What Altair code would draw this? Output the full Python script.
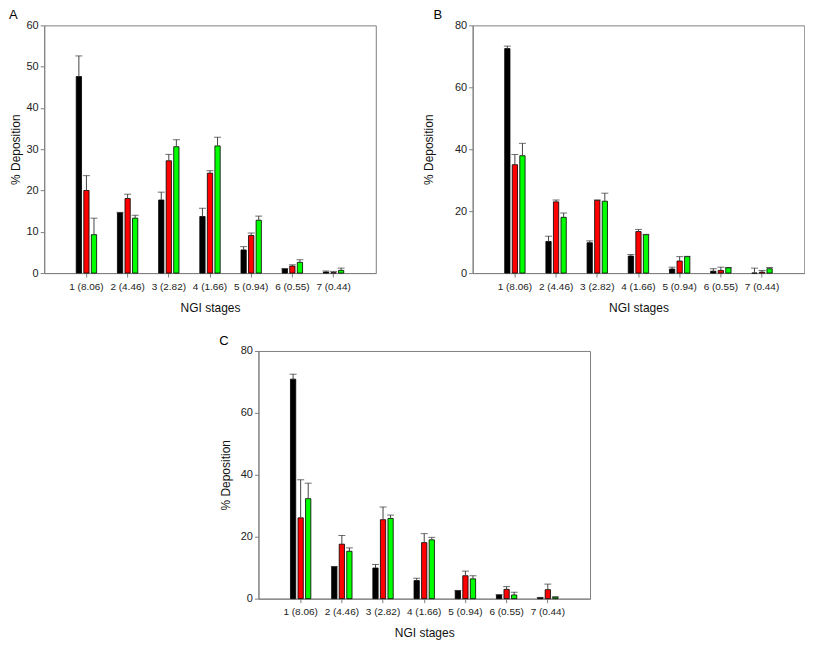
import altair as alt
import pandas as pd

stages = ["1 (8.06)", "2 (4.46)", "3 (2.82)", "4 (1.66)", "5 (0.94)", "6 (0.55)", "7 (0.44)"]
series = ["Series 1", "Series 2", "Series 3"]
colors = ["#000000", "#ff0000", "#00ff00"]

# Panel A
a_black = [47.6, 14.6, 17.7, 13.7, 5.6, 1.0, 0.25]
a_black_err = [5.0, 0.1, 1.9, 2.0, 0.8, 0.1, 0.25]
a_red = [20.0, 18.05, 27.2, 24.2, 9.1, 1.7, 0.1]
a_red_err = [3.6, 1.05, 1.55, 0.6, 0.6, 0.3, 0.3]
a_green = [9.3, 13.3, 30.6, 30.8, 12.8, 2.6, 0.65]
a_green_err = [4.0, 0.7, 1.7, 2.1, 1.0, 0.6, 0.55]

# Panel B
b_black = [72.5, 10.2, 9.8, 5.5, 1.3, 0.6, 0.0]
b_black_err = [0.8, 1.7, 0.6, 0.5, 0.6, 0.8, 1.6]
b_red = [35.0, 23.0, 23.5, 13.4, 3.9, 0.85, 0.3]
b_red_err = [3.3, 0.6, 0.1, 0.7, 1.4, 1.05, 0.55]
b_green = [37.9, 18.0, 23.2, 12.4, 5.3, 1.7, 1.4]
b_green_err = [4.0, 1.4, 2.6, 0.1, 0.1, 0.1, 0.4]

# Panel C
c_black = [70.9, 10.3, 9.9, 5.85, 2.55, 1.2, 0.3]
c_black_err = [1.6, 0.1, 1.15, 0.75, 0.1, 0.1, 0.1]
c_red = [26.1, 17.6, 25.5, 18.1, 7.4, 3.0, 2.9]
c_red_err = [12.3, 2.8, 4.1, 2.9, 1.5, 0.9, 1.8]
c_green = [32.3, 15.3, 25.9, 19.0, 6.4, 1.2, 0.5]
c_green_err = [5.0, 1.1, 1.1, 0.8, 1.0, 0.9, 0.1]

W = 332
H = 248
FONT = "Liberation Sans"


def panel(label, means, errs, ymax, ystep, title_pad, label_dx):
    rows = []
    for s, m_list, e_list in zip(series, means, errs):
        for st, m, e in zip(stages, m_list, e_list):
            rows.append({"stage": st, "series": s, "mean": m, "upper": m + e})
    df = pd.DataFrame(rows)
    x = alt.X(
        "stage:N",
        sort=stages,
        scale=alt.Scale(paddingInner=0.45, paddingOuter=0.75),
        axis=alt.Axis(title="NGI stages", labelAngle=0, labelFontSize=10,
                      labelPadding=4, titlePadding=11),
    )
    xo = alt.XOffset("series:N", sort=series,
                     scale=alt.Scale(paddingInner=0.3, paddingOuter=0.15))
    y = alt.Y(
        "mean:Q",
        scale=alt.Scale(domain=[0, ymax], nice=False),
        axis=alt.Axis(title="% Deposition", values=list(range(0, ymax + 1, ystep)),
                      labelFontSize=11, labelPadding=2, titlePadding=title_pad),
    )
    base = alt.Chart(df)
    bars = base.mark_bar(stroke="black", strokeWidth=0.8).encode(
        x=x, xOffset=xo, y=y,
        color=alt.Color("series:N", scale=alt.Scale(domain=series, range=colors), legend=None),
    )
    rules = base.mark_rule(color="#444444", strokeWidth=1).encode(
        x=x, xOffset=xo, y="mean:Q", y2="upper:Q"
    )
    caps = base.mark_tick(color="#333333", size=7, thickness=1).encode(
        x=x, xOffset=xo, y="upper:Q"
    )
    return alt.layer(bars, rules, caps).properties(
        width=W, height=H,
        title=alt.TitleParams(label, anchor="start", fontSize=13, fontWeight="normal",
                              font=FONT, dx=label_dx, offset=-3),
    )


pa = panel("A", [a_black, a_red, a_green], [a_black_err, a_red_err, a_green_err], 60, 10, 4, 0)
pb = panel("B", [b_black, b_red, b_green], [b_black_err, b_red_err, b_green_err], 80, 20, 19, 11)
pc = panel("C", [c_black, c_red, c_green], [c_black_err, c_red_err, c_green_err], 80, 20, 8, 0)

top = alt.hconcat(pa, pb, spacing=45)
chart = alt.vconcat(top, pc, spacing=20, center=True).properties(
    padding={"left": 0, "top": 0, "right": 0, "bottom": 0}
).configure_view(
    stroke="#808080", strokeWidth=1
).configure_axis(
    labelFont=FONT, titleFont=FONT, titleFontSize=12, titleFontWeight="normal",
    labelColor="#222222", titleColor="#111111",
    domainColor="#808080", tickColor="#808080", tickSize=4, grid=False,
)

chart.save("out.html", embed_options={"renderer": "svg", "actions": False})
